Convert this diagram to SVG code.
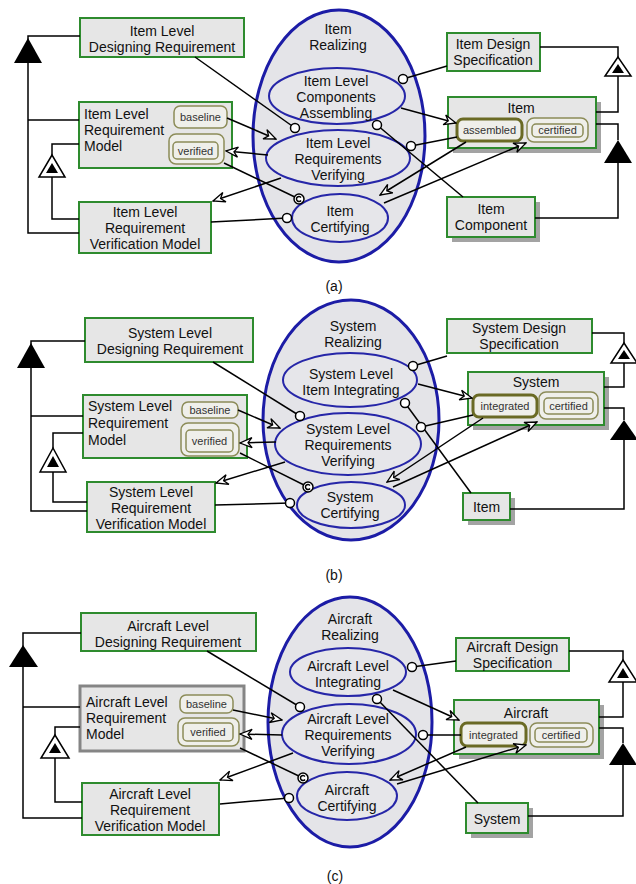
<svg xmlns="http://www.w3.org/2000/svg" width="636" height="884" viewBox="0 0 636 884">
<defs>
<style>
.box{fill:#e6e6e6;stroke:#2e8b2e;stroke-width:2}
.gbox{fill:#e6e6e6;stroke:#858585;stroke-width:3}
.sh{fill:#a3a3a3}
.outer{fill:#e4e4e8;stroke:#1c1ca6;stroke-width:3}
.inner{fill:#e6e6ea;stroke:#2626a8;stroke-width:2}
.pill{fill:#efefea;stroke:#8c8c58;stroke-width:1.5}
.pthick{fill:#efefea;stroke:#6a6a24;stroke-width:3}
.t{font-family:"Liberation Sans",Arial,sans-serif;font-size:14px;fill:#111}
.m{text-anchor:middle}
.s{font-size:11px;fill:#333}
.ln{stroke:#000;stroke-width:1.5;fill:none}
.ar{stroke:#000;stroke-width:1.5;fill:none;marker-end:url(#arr)}
.lol{fill:#fff;stroke:#000;stroke-width:1.5}
.tri{fill:#000}
.otri{fill:#fff;stroke:#000;stroke-width:1.5}
</style>
<marker id="arr" markerWidth="14" markerHeight="12" refX="13" refY="6" orient="auto" markerUnits="userSpaceOnUse">
<path d="M1,1 L13,6 L1,11 L5,6 Z" fill="#fff" stroke="#000" stroke-width="1.3"/>
</marker>
</defs>
<rect width="636" height="884" fill="#fff"/>

<!-- ================= PANEL A ================= -->
<g id="a-realizing">
<ellipse class="outer" cx="339" cy="136" rx="86" ry="126"/>
<text class="t m" x="338" y="34">Item</text>
<text class="t m" x="338" y="50">Realizing</text>
</g>
<g id="a-assembling">
<ellipse class="inner" cx="337" cy="96" rx="68" ry="28"/>
<text class="t m" x="336" y="86">Item Level</text>
<text class="t m" x="336" y="102">Components</text>
<text class="t m" x="336" y="118">Assembling</text>
</g>
<g id="a-verifying">
<ellipse class="inner" cx="338" cy="158" rx="72" ry="28"/>
<text class="t m" x="338" y="148">Item Level</text>
<text class="t m" x="338" y="164">Requirements</text>
<text class="t m" x="338" y="180">Verifying</text>
</g>
<g id="a-certifying">
<ellipse class="inner" cx="340" cy="218" rx="48" ry="24"/>
<text class="t m" x="340" y="216">Item</text>
<text class="t m" x="340" y="232">Certifying</text>
</g>
<g id="a-designreq">
<rect class="box" x="80" y="18" width="164" height="39"/>
<text class="t m" x="162" y="36">Item Level</text>
<text class="t m" x="162" y="52">Designing Requirement</text>
</g>
<g id="a-reqmodel">
<rect class="box" x="79" y="102" width="153" height="66"/>
<text class="t" x="84" y="119">Item Level</text>
<text class="t" x="84" y="135">Requirement</text>
<text class="t" x="84" y="151">Model</text>
<rect class="pill" x="174" y="106" width="53" height="22" rx="6"/>
<text class="t s m" x="200.5" y="121">baseline</text>
<rect class="pill" x="169" y="134" width="55" height="30" rx="7"/>
<rect class="pill" x="173" y="142" width="45" height="17" rx="4"/>
<text class="t s m" x="195.5" y="155">verified</text>
</g>
<g id="a-verifmodel">
<rect class="box" x="79" y="202" width="132" height="51"/>
<text class="t m" x="145" y="217">Item Level</text>
<text class="t m" x="145" y="233">Requirement</text>
<text class="t m" x="145" y="249">Verification Model</text>
</g>
<g id="a-designspec">
<rect class="box" x="447" y="33" width="93" height="38"/>
<text class="t m" x="493" y="49">Item Design</text>
<text class="t m" x="493" y="65">Specification</text>
</g>
<g id="a-item">
<rect class="sh" x="453" y="102" width="148" height="51"/>
<rect class="box" x="448" y="97" width="148" height="51"/>
<text class="t m" x="521" y="113">Item</text>
<rect class="pthick" x="457" y="119" width="65" height="22" rx="6"/>
<text class="t s m" x="489.5" y="134">assembled</text>
<rect class="pill" x="527" y="118" width="61" height="24" rx="7"/>
<rect class="pill" x="532" y="124" width="51" height="13" rx="4"/>
<text class="t s m" x="557.5" y="134">certified</text>
</g>
<g id="a-component">
<rect class="sh" x="452" y="202" width="88" height="40"/>
<rect class="box" x="447" y="197" width="88" height="40"/>
<text class="t m" x="491" y="214">Item</text>
<text class="t m" x="491" y="230">Component</text>
</g>

<!-- ================= PANEL B ================= -->
<g id="b-realizing">
<ellipse class="outer" cx="351" cy="420" rx="88" ry="120"/>
<text class="t m" x="353" y="331">System</text>
<text class="t m" x="353" y="347">Realizing</text>
</g>
<g id="b-integrating">
<ellipse class="inner" cx="350" cy="380" rx="67" ry="27"/>
<text class="t m" x="351" y="379">System Level</text>
<text class="t m" x="351" y="395">Item Integrating</text>
</g>
<g id="b-verifying">
<ellipse class="inner" cx="348" cy="444" rx="73" ry="31"/>
<text class="t m" x="348" y="434">System Level</text>
<text class="t m" x="348" y="450">Requirements</text>
<text class="t m" x="348" y="466">Verifying</text>
</g>
<g id="b-certifying">
<ellipse class="inner" cx="351" cy="505" rx="54" ry="23"/>
<text class="t m" x="350" y="502">System</text>
<text class="t m" x="350" y="518">Certifying</text>
</g>
<g id="b-designreq">
<rect class="box" x="85" y="318" width="168" height="44"/>
<text class="t m" x="170" y="338">System Level</text>
<text class="t m" x="170" y="354">Designing Requirement</text>
</g>
<g id="b-reqmodel">
<rect class="box" x="83" y="395" width="164" height="63"/>
<text class="t" x="88" y="411">System Level</text>
<text class="t" x="88" y="428">Requirement</text>
<text class="t" x="88" y="445">Model</text>
<rect class="pill" x="182" y="402" width="56" height="16" rx="6"/>
<text class="t s m" x="210" y="414">baseline</text>
<rect class="pill" x="181" y="423" width="58" height="33" rx="7"/>
<rect class="pill" x="186" y="430" width="47" height="22" rx="4"/>
<text class="t s m" x="209.5" y="445">verified</text>
</g>
<g id="b-verifmodel">
<rect class="box" x="87" y="482" width="128" height="50"/>
<text class="t m" x="151" y="497">System Level</text>
<text class="t m" x="151" y="513">Requirement</text>
<text class="t m" x="151" y="529">Verification Model</text>
</g>
<g id="b-designspec">
<rect class="box" x="447" y="319" width="145" height="34"/>
<text class="t m" x="519" y="333">System Design</text>
<text class="t m" x="519" y="349">Specification</text>
</g>
<g id="b-system">
<rect class="sh" x="473" y="377" width="136" height="53"/>
<rect class="box" x="468" y="372" width="136" height="53"/>
<text class="t m" x="536" y="387">System</text>
<rect class="pthick" x="473" y="395" width="64" height="22" rx="6"/>
<text class="t s m" x="505" y="410">integrated</text>
<rect class="pill" x="539" y="392" width="59" height="27" rx="7"/>
<rect class="pill" x="544" y="398" width="49" height="16" rx="4"/>
<text class="t s m" x="568.5" y="410">certified</text>
</g>
<g id="b-item">
<rect class="sh" x="468" y="498" width="47" height="27"/>
<rect class="box" x="463" y="493" width="47" height="27"/>
<text class="t m" x="486.5" y="512">Item</text>
</g>

<!-- ================= PANEL C ================= -->
<g id="c-realizing">
<ellipse class="outer" cx="350" cy="722" rx="82" ry="125"/>
<text class="t m" x="350" y="624">Aircraft</text>
<text class="t m" x="350" y="640">Realizing</text>
</g>
<g id="c-integrating">
<ellipse class="inner" cx="348" cy="672" rx="58" ry="24"/>
<text class="t m" x="348" y="671">Aircraft Level</text>
<text class="t m" x="348" y="687">Integrating</text>
</g>
<g id="c-verifying">
<ellipse class="inner" cx="349" cy="734" rx="67" ry="30"/>
<text class="t m" x="348" y="724">Aircraft Level</text>
<text class="t m" x="348" y="740">Requirements</text>
<text class="t m" x="348" y="756">Verifying</text>
</g>
<g id="c-certifying">
<ellipse class="inner" cx="347" cy="796" rx="50" ry="24"/>
<text class="t m" x="347" y="795">Aircraft</text>
<text class="t m" x="347" y="811">Certifying</text>
</g>
<g id="c-designreq">
<rect class="box" x="81" y="613" width="175" height="38"/>
<text class="t m" x="168" y="631">Aircraft Level</text>
<text class="t m" x="168" y="647">Designing Requirement</text>
</g>
<g id="c-reqmodel">
<rect class="gbox" x="80" y="686" width="164" height="65"/>
<text class="t" x="86" y="707">Aircraft Level</text>
<text class="t" x="86" y="723">Requirement</text>
<text class="t" x="86" y="739">Model</text>
<rect class="pill" x="180" y="695" width="53" height="18" rx="6"/>
<text class="t s m" x="206.5" y="708">baseline</text>
<rect class="pill" x="178" y="718" width="61" height="28" rx="7"/>
<rect class="pill" x="183" y="723" width="50" height="18" rx="4"/>
<text class="t s m" x="208" y="736">verified</text>
</g>
<g id="c-verifmodel">
<rect class="box" x="82" y="783" width="137" height="52"/>
<text class="t m" x="150" y="799">Aircraft Level</text>
<text class="t m" x="150" y="815">Requirement</text>
<text class="t m" x="150" y="831">Verification Model</text>
</g>
<g id="c-designspec">
<rect class="box" x="456" y="638" width="113" height="33"/>
<text class="t m" x="512.5" y="652">Aircraft Design</text>
<text class="t m" x="512.5" y="668">Specification</text>
</g>
<g id="c-aircraft">
<rect class="sh" x="459" y="705" width="145" height="54"/>
<rect class="box" x="454" y="700" width="145" height="54"/>
<text class="t m" x="526" y="718">Aircraft</text>
<rect class="pthick" x="461" y="723" width="65" height="23" rx="6"/>
<text class="t s m" x="493.5" y="739">integrated</text>
<rect class="pill" x="530" y="723" width="63" height="24" rx="7"/>
<rect class="pill" x="535" y="728" width="52" height="14" rx="4"/>
<text class="t s m" x="561" y="739">certified</text>
</g>
<g id="c-system">
<rect class="sh" x="471" y="808" width="62" height="30"/>
<rect class="box" x="466" y="803" width="62" height="30"/>
<text class="t m" x="497" y="824">System</text>
</g>

<!-- ================= CONNECTORS ================= -->
<g id="connectors">
<!-- Panel A generalizations -->
<polyline class="ln" points="80,36 28,36 28,233 79,233"/>
<line class="ln" x1="28" y1="120" x2="79" y2="120"/>
<polygon class="tri" points="28,38 14,63 42,63"/>
<polyline class="ln" points="79,144 52,144 52,155"/>
<polyline class="ln" points="52,177 52,219 79,219"/>
<polygon class="otri" points="52,155 39,177 65,177"/>
<polygon class="tri" points="52,163 46,173 58,173"/>
<polyline class="ln" points="540,47 618,47 618,57"/>
<polyline class="ln" points="618,76 618,112 596,112"/>
<polygon class="otri" points="618,57 605,76 631,76"/>
<polygon class="tri" points="618,64 612,73 624,73"/>
<polyline class="ln" points="596,124 618,124 618,140"/>
<polyline class="ln" points="618,163 618,218 535,218"/>
<polygon class="tri" points="618,140 604,163 632,163"/>
<!-- Panel A associations -->
<line class="ln" x1="195" y1="57" x2="295" y2="128"/>
<line class="ar" x1="227" y1="118" x2="276" y2="139"/>
<line class="ar" x1="268" y1="155" x2="226" y2="151"/>
<line class="ln" x1="224" y1="163" x2="299" y2="199"/>
<line class="ar" x1="281" y1="178" x2="213" y2="201"/>
<line class="ln" x1="211" y1="222" x2="287" y2="218"/>
<line class="ln" x1="403" y1="79" x2="447" y2="66"/>
<line class="ar" x1="401" y1="108" x2="456" y2="123"/>
<line class="ln" x1="377" y1="125" x2="463" y2="197"/>
<line class="ln" x1="411" y1="146" x2="457" y2="137"/>
<line class="ar" x1="466" y1="142" x2="380" y2="195"/>
<line class="ar" x1="384" y1="203" x2="526" y2="143"/>
<circle class="lol" cx="295" cy="128" r="4.5"/>
<circle class="lol" cx="287" cy="218" r="4.5"/>
<circle class="lol" cx="403" cy="79" r="4.5"/>
<circle class="lol" cx="377" cy="125" r="4.5"/>
<circle class="lol" cx="411" cy="146" r="4.5"/>
<circle class="lol" cx="299" cy="199" r="5"/>
<path class="ln" d="M301,197.5 A2.5,2.5 0 1 0 301,200.5" stroke-width="1"/>

<!-- Panel B generalizations -->
<polyline class="ln" points="85,341 31,341 31,511 87,511"/>
<line class="ln" x1="31" y1="416" x2="83" y2="416"/>
<polygon class="tri" points="31,343 17,368 45,368"/>
<polyline class="ln" points="83,433 53,433 53,448"/>
<polyline class="ln" points="53,472 53,502 87,502"/>
<polygon class="otri" points="53,448 40,472 66,472"/>
<polygon class="tri" points="53,456 47,467 59,467"/>
<polyline class="ln" points="592,333 624,333 624,343"/>
<polyline class="ln" points="624,363 624,387 604,387"/>
<polygon class="otri" points="624,343 611,363 637,363"/>
<polygon class="tri" points="624,350 618,359 630,359"/>
<polyline class="ln" points="604,408 624,408 624,420"/>
<polyline class="ln" points="624,440 624,509 510,509"/>
<polygon class="tri" points="624,420 610,440 638,440"/>
<!-- Panel B associations -->
<line class="ln" x1="213" y1="362" x2="300" y2="416"/>
<line class="ar" x1="238" y1="410" x2="280" y2="428"/>
<line class="ar" x1="276" y1="442" x2="240" y2="443"/>
<line class="ln" x1="240" y1="453" x2="308" y2="487"/>
<line class="ar" x1="285" y1="462" x2="216" y2="483"/>
<line class="ln" x1="215" y1="505" x2="290" y2="503"/>
<line class="ln" x1="413" y1="366" x2="447" y2="356"/>
<line class="ar" x1="418" y1="384" x2="472" y2="398"/>
<line class="ln" x1="405" y1="403" x2="471" y2="493"/>
<line class="ln" x1="421" y1="427" x2="473" y2="415"/>
<line class="ar" x1="483" y1="418" x2="387" y2="482"/>
<line class="ar" x1="393" y1="487" x2="537" y2="422"/>
<circle class="lol" cx="300" cy="416" r="4.5"/>
<circle class="lol" cx="290" cy="503" r="4.5"/>
<circle class="lol" cx="413" cy="366" r="4.5"/>
<circle class="lol" cx="405" cy="403" r="4.5"/>
<circle class="lol" cx="421" cy="427" r="4.5"/>
<circle class="lol" cx="308" cy="487" r="5"/>
<path class="ln" d="M310,485.5 A2.5,2.5 0 1 0 310,488.5" stroke-width="1"/>

<!-- Panel C generalizations -->
<polyline class="ln" points="81,633 23,633 23,818 82,818"/>
<line class="ln" x1="23" y1="707" x2="80" y2="707"/>
<polygon class="tri" points="23,645 9,667 38,667"/>
<polyline class="ln" points="80,727 55,727 55,735"/>
<polyline class="ln" points="55,758 55,802 82,802"/>
<polygon class="otri" points="55,735 41,758 69,758"/>
<polygon class="tri" points="55,743 49,753 61,753"/>
<polyline class="ln" points="569,651 623,651 623,660"/>
<polyline class="ln" points="623,682 623,717 599,717"/>
<polygon class="otri" points="623,660 609,682 637,682"/>
<polygon class="tri" points="623,668 617,678 629,678"/>
<polyline class="ln" points="599,728 623,728 623,743"/>
<polyline class="ln" points="623,765 623,816 528,816"/>
<polygon class="tri" points="623,743 609,765 637,765"/>
<!-- Panel C associations -->
<line class="ln" x1="207" y1="651" x2="300" y2="707"/>
<line class="ar" x1="233" y1="710" x2="282" y2="720"/>
<line class="ar" x1="282" y1="735" x2="240" y2="734"/>
<line class="ln" x1="240" y1="748" x2="303" y2="778"/>
<line class="ar" x1="293" y1="753" x2="220" y2="780"/>
<line class="ln" x1="220" y1="804" x2="289" y2="798"/>
<line class="ln" x1="412" y1="667" x2="456" y2="661"/>
<line class="ar" x1="393" y1="690" x2="459" y2="720"/>
<line class="ln" x1="377" y1="699" x2="478" y2="803"/>
<line class="ln" x1="423" y1="735" x2="461" y2="735"/>
<line class="ar" x1="466" y1="747" x2="390" y2="780"/>
<line class="ar" x1="397" y1="784" x2="526" y2="745"/>
<circle class="lol" cx="300" cy="707" r="4.5"/>
<circle class="lol" cx="289" cy="798" r="4.5"/>
<circle class="lol" cx="412" cy="667" r="4.5"/>
<circle class="lol" cx="377" cy="699" r="4.5"/>
<circle class="lol" cx="423" cy="735" r="4.5"/>
<circle class="lol" cx="303" cy="778" r="5"/>
<path class="ln" d="M305,776.5 A2.5,2.5 0 1 0 305,779.5" stroke-width="1"/>
</g>

<g id="captions">
<text class="t m" x="334" y="291">(a)</text>
<text class="t m" x="334" y="580">(b)</text>
<text class="t m" x="335" y="881">(c)</text>
</g>
</svg>
